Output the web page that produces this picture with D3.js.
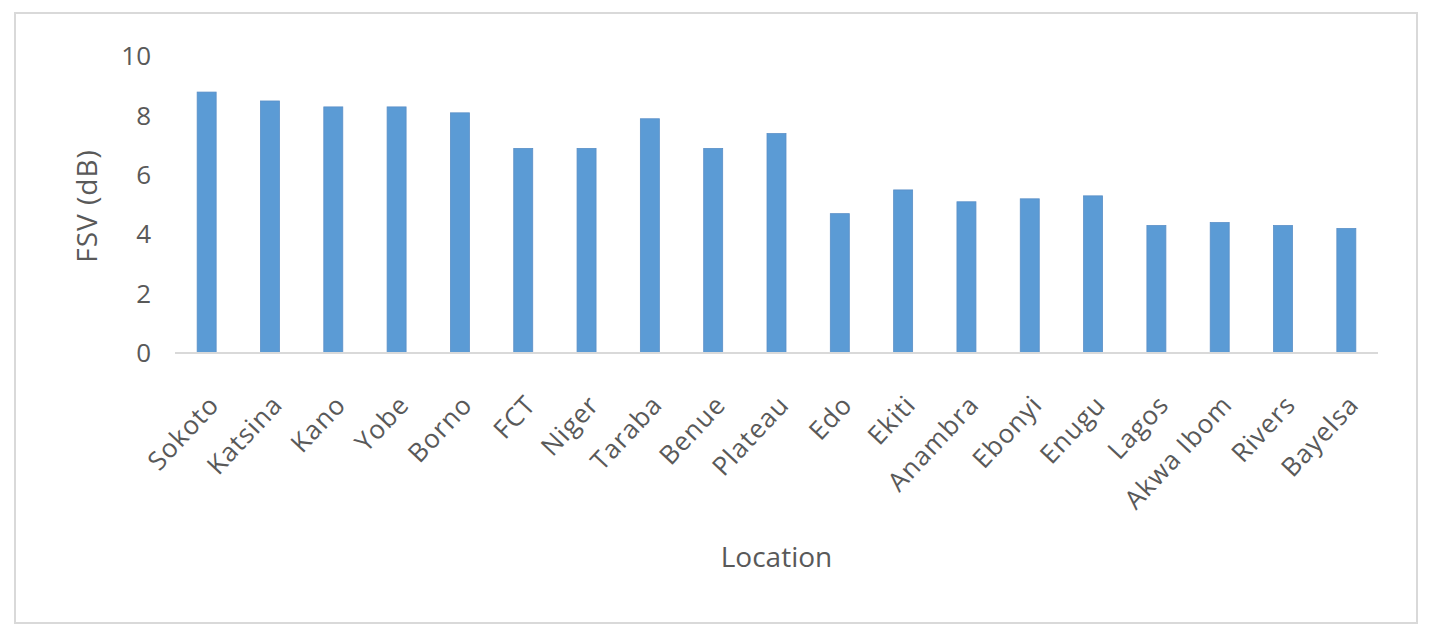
<!DOCTYPE html>
<html>
<head>
<meta charset="utf-8">
<script src="https://cdn.jsdelivr.net/npm/d3@7"></script>
<style>
  body { margin: 0; background: #fff; }
  text { font-family: "Open Sans", sans-serif; fill: #595959; }
</style>
</head>
<body>
<div id="chart"></div>
<script>
const locations = ["Sokoto", "Katsina", "Kano", "Yobe", "Borno", "FCT", "Niger", "Taraba", "Benue", "Plateau",
  "Edo", "Ekiti", "Anambra", "Ebonyi", "Enugu", "Lagos", "Akwa Ibom", "Rivers", "Bayelsa"];
const fsv = [8.8, 8.5, 8.3, 8.3, 8.1, 6.9, 6.9, 7.9, 6.9, 7.4,
  4.7, 5.5, 5.1, 5.2, 5.3, 4.3, 4.4, 4.3, 4.2];
const yTicks = [0, 2, 4, 6, 8, 10];

const width = 1438, height = 632;
const margin = {left: 175, right: 60, top: 55, bottom: 279};

const svg = d3.select("#chart").append("svg")
  .attr("width", width)
  .attr("height", height);

// chart frame
svg.append("rect")
  .attr("x", 15).attr("y", 13)
  .attr("width", 1402).attr("height", 610)
  .attr("fill", "#fff")
  .attr("stroke", "#d9d9d9")
  .attr("stroke-width", 2);

const x = d3.scaleBand()
  .domain(locations)
  .range([margin.left, width - margin.right])
  .paddingInner(0.7)
  .paddingOuter(0.35);

const y = d3.scaleLinear()
  .domain([0, 10])
  .range([height - margin.bottom, margin.top + 1.5]);

// y tick labels (no axis line in the original)
const yAxis = svg.append("g")
  .attr("transform", `translate(${margin.left},0)`)
  .call(d3.axisLeft(y).tickValues(yTicks).tickSize(0).tickPadding(24));
yAxis.select(".domain").remove();
yAxis.selectAll("text")
  .style("font-size", "26px")
  .attr("fill", "#595959");

// bars
svg.append("g")
  .selectAll("rect")
  .data(fsv)
  .join("rect")
  .attr("x", (d, i) => x(locations[i]))
  .attr("y", d => y(d))
  .attr("width", x.bandwidth())
  .attr("height", d => y(0) - y(d))
  .attr("fill", "#5b9bd5")
  .attr("stroke", "#5a8fc7")
  .attr("stroke-width", 0.8);

// x axis line
const xAxis = svg.append("g")
  .attr("transform", `translate(0,${y(0)})`)
  .call(d3.axisBottom(x).tickSize(0).tickFormat(""));
xAxis.select(".domain")
  .attr("stroke", "#d9d9d9")
  .attr("stroke-width", 2)
  .attr("d", `M${margin.left},0H${width - margin.right}`);

// rotated category labels
svg.append("g")
  .selectAll("text")
  .data(locations)
  .join("text")
  .attr("transform", d => `translate(${x(d) + x.bandwidth() / 2 + 14},${y(0) + 53}) rotate(-47)`)
  .attr("text-anchor", "end")
  .style("font-size", "26px")
  .style("letter-spacing", "1px")
  .text(d => d);

// axis titles
svg.append("text")
  .attr("x", (margin.left + width - margin.right) / 2)
  .attr("y", 567)
  .attr("text-anchor", "middle")
  .style("font-size", "28px")
  .text("Location");

svg.append("text")
  .attr("transform", "translate(97,206) rotate(-90)")
  .attr("text-anchor", "middle")
  .style("font-size", "28px")
  .style("letter-spacing", "1px")
  .text("FSV (dB)");
</script>
</body>
</html>
